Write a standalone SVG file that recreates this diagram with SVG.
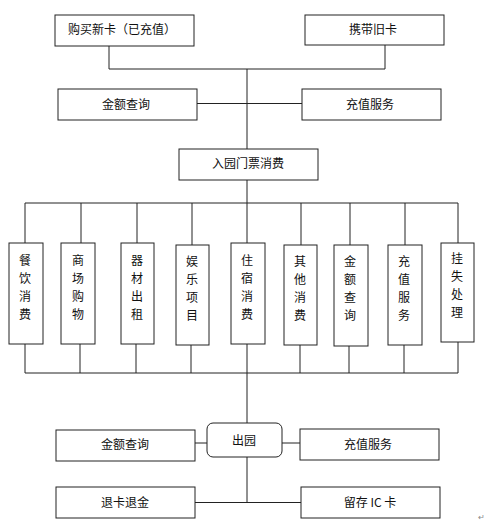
<svg xmlns="http://www.w3.org/2000/svg" width="484" height="532" viewBox="0 0 484 532">
<style>
.b{fill:#fff;stroke:#222;stroke-width:1}
.c{fill:none;stroke:#222;stroke-width:1}
text{font-family:"Noto Sans CJK SC","Liberation Sans",sans-serif;font-size:12px;fill:#111;text-anchor:middle;dominant-baseline:central}
</style>
<rect width="484" height="532" fill="#fff"/>
<g id="connectors">
<polyline class="c" points="109,46 109,69 385,69 385,45"/>
<line class="c" x1="247" y1="69" x2="247" y2="149"/>
<line class="c" x1="197" y1="103.5" x2="302" y2="103.5"/>
<line class="c" x1="247" y1="180" x2="247" y2="243"/>
<polyline class="c" points="25,243 25,203 458,203 458,243"/>
<line class="c" x1="81" y1="203" x2="81" y2="243"/>
<line class="c" x1="137" y1="203" x2="137" y2="243"/>
<line class="c" x1="192" y1="203" x2="192" y2="245"/>
<line class="c" x1="301" y1="203" x2="301" y2="245"/>
<line class="c" x1="350" y1="203" x2="350" y2="245"/>
<line class="c" x1="405" y1="203" x2="405" y2="245"/>
<polyline class="c" points="25,344 25,373 458,373 458,342"/>
<line class="c" x1="80" y1="344" x2="80" y2="373"/>
<line class="c" x1="136" y1="344" x2="136" y2="373"/>
<line class="c" x1="191" y1="345" x2="191" y2="373"/>
<line class="c" x1="247" y1="344" x2="247" y2="423"/>
<line class="c" x1="300" y1="345" x2="300" y2="373"/>
<line class="c" x1="349" y1="346" x2="349" y2="373"/>
<line class="c" x1="404" y1="345" x2="404" y2="373"/>
<line class="c" x1="195" y1="443" x2="207" y2="443"/>
<line class="c" x1="282" y1="443" x2="300" y2="443"/>
<line class="c" x1="247" y1="457" x2="247" y2="502"/>
<line class="c" x1="195" y1="502.5" x2="301" y2="502.5"/>
</g>
<g id="n1"><rect class="b" x="55" y="15" width="139" height="31"/><text x="122" y="28">购买新卡（已充值）</text></g>
<g id="n2"><rect class="b" x="305" y="15" width="139" height="30"/><text x="373" y="28">携带旧卡</text></g>
<g id="n3"><rect class="b" x="58" y="89" width="139" height="31"/><text x="126" y="103">金额查询</text></g>
<g id="n4"><rect class="b" x="302" y="89" width="139" height="31"/><text x="370" y="103">充值服务</text></g>
<g id="n5"><rect class="b" x="179" y="149" width="139" height="31"/><text x="248" y="162">入园门票消费</text></g>
<g id="v1"><rect class="b" x="9" y="243" width="34" height="101"/><text x="25"><tspan x="25" y="259">餐</tspan><tspan x="25" y="277">饮</tspan><tspan x="25" y="295">消</tspan><tspan x="25" y="313">费</tspan></text></g>
<g id="v2"><rect class="b" x="61" y="243" width="34" height="101"/><text><tspan x="78" y="259">商</tspan><tspan x="78" y="277">场</tspan><tspan x="78" y="295">购</tspan><tspan x="78" y="313">物</tspan></text></g>
<g id="v3"><rect class="b" x="121" y="243" width="33" height="101"/><text><tspan x="137" y="259">器</tspan><tspan x="137" y="277">材</tspan><tspan x="137" y="295">出</tspan><tspan x="137" y="313">租</tspan></text></g>
<g id="v4"><rect class="b" x="176" y="245" width="33" height="100"/><text><tspan x="192" y="260">娱</tspan><tspan x="192" y="278">乐</tspan><tspan x="192" y="296">项</tspan><tspan x="192" y="314">目</tspan></text></g>
<g id="v5"><rect class="b" x="231" y="243" width="34" height="101"/><text><tspan x="247" y="259">住</tspan><tspan x="247" y="277">宿</tspan><tspan x="247" y="295">消</tspan><tspan x="247" y="313">费</tspan></text></g>
<g id="v6"><rect class="b" x="284" y="245" width="33" height="100"/><text><tspan x="300" y="260">其</tspan><tspan x="300" y="278">他</tspan><tspan x="300" y="296">消</tspan><tspan x="300" y="314">费</tspan></text></g>
<g id="v7"><rect class="b" x="334" y="245" width="34" height="101"/><text><tspan x="350" y="260">金</tspan><tspan x="350" y="278">额</tspan><tspan x="350" y="296">查</tspan><tspan x="350" y="314">询</tspan></text></g>
<g id="v8"><rect class="b" x="388" y="245" width="34" height="100"/><text><tspan x="404" y="260">充</tspan><tspan x="404" y="278">值</tspan><tspan x="404" y="296">服</tspan><tspan x="404" y="314">务</tspan></text></g>
<g id="v9"><rect class="b" x="441" y="243" width="33" height="99"/><text><tspan x="457" y="257">挂</tspan><tspan x="457" y="275">失</tspan><tspan x="457" y="293">处</tspan><tspan x="457" y="311">理</tspan></text></g>
<g id="n6"><rect class="b" x="207" y="423" width="75" height="34" rx="6"/><text x="244" y="439">出园</text></g>
<g id="n7"><rect class="b" x="56" y="430" width="139" height="31"/><text x="125" y="443">金额查询</text></g>
<g id="n8"><rect class="b" x="300" y="429" width="139" height="31"/><text x="368" y="443">充值服务</text></g>
<g id="n9"><rect class="b" x="56" y="487" width="139" height="31"/><text x="125" y="501">退卡退金</text></g>
<g id="n10"><rect class="b" x="301" y="487" width="139" height="31"/><text x="370" y="501">留存 IC 卡</text></g>
<text x="481" y="516" style="font-size:8px;fill:#888">↵</text>
</svg>
